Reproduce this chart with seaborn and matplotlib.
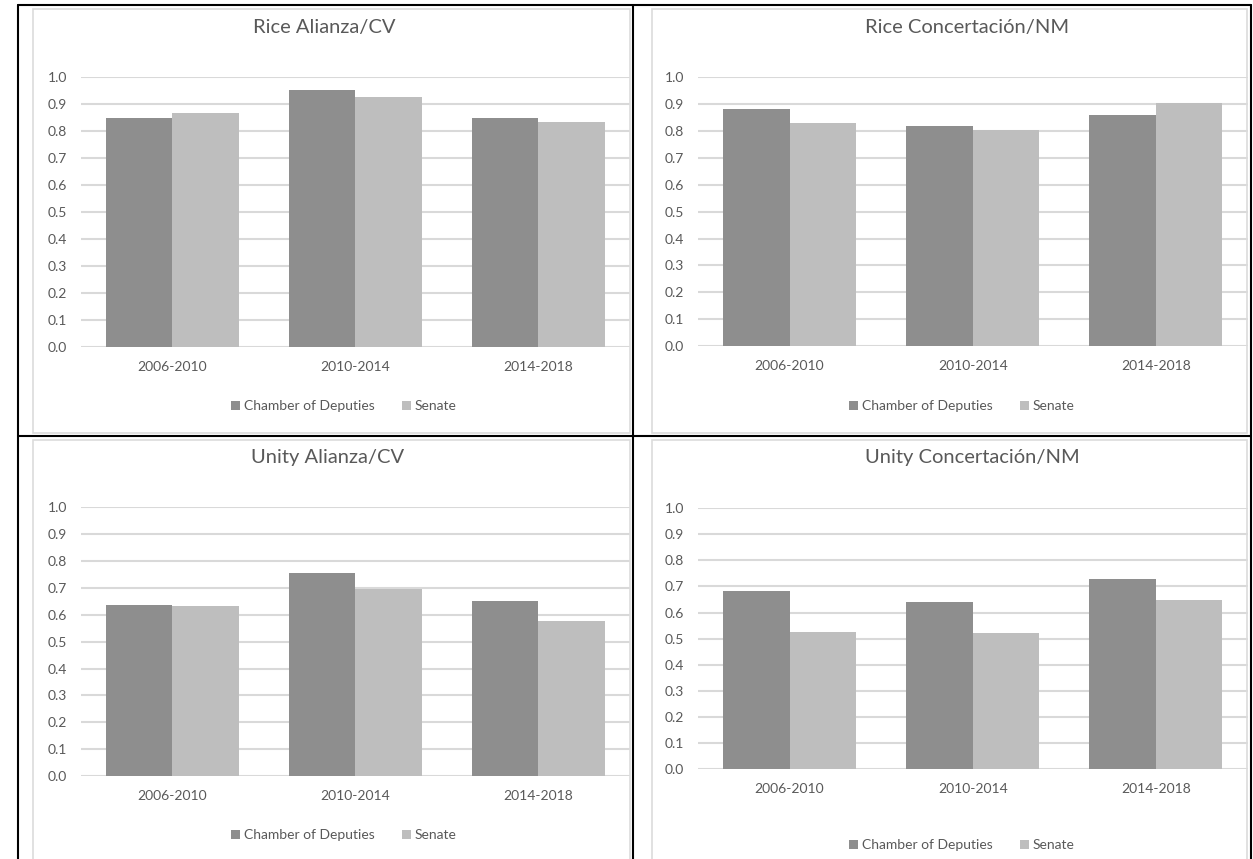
import pandas as pd
import matplotlib.pyplot as plt
import seaborn as sns
from matplotlib.lines import Line2D
from matplotlib.patches import Rectangle
from matplotlib.ticker import MultipleLocator, FormatStrFormatter

# Data
periods = ['2006-2010', '2010-2014', '2014-2018']
chambers = ['Chamber of Deputies', 'Senate']

rice_alianza_chamber = [0.848, 0.953, 0.850]
rice_alianza_senate = [0.866, 0.928, 0.836]
rice_concert_chamber = [0.881, 0.817, 0.859]
rice_concert_senate = [0.828, 0.804, 0.905]
unity_alianza_chamber = [0.635, 0.755, 0.651]
unity_alianza_senate = [0.632, 0.697, 0.578]
unity_concert_chamber = [0.681, 0.639, 0.728]
unity_concert_senate = [0.524, 0.520, 0.647]

titles = ['Rice Alianza/CV', 'Rice Concertación/NM', 'Unity Alianza/CV', 'Unity Concertación/NM']

dark = '#8e8e8e'
light = '#bebebe'
text_col = '#595959'
grid_col = '#d9d9d9'

sns.set_theme(style='white')
plt.rcParams['font.family'] = ['Lato', 'DejaVu Sans']

W, H = 1253, 859
fig = plt.figure(figsize=(W / 100, H / 100), dpi=100)


def fx(px):
    return px / W


def fy(py):
    return 1 - py / H


# (left, right, top(1.0), bottom(0.0)) in pixels, title pos, legend pos
layout = [
    ((81, 629.5, 77, 347), (324, 28), (344, 406)),
    ((698, 1247.5, 77, 346), (967, 28), (962, 406)),
    ((81, 629.5, 507, 776), (328, 457), (344, 835)),
    ((698, 1247.5, 508, 769), (972, 458), (962, 845)),
]
series = [
    (rice_alianza_chamber, rice_alianza_senate),
    (rice_concert_chamber, rice_concert_senate),
    (unity_alianza_chamber, unity_alianza_senate),
    (unity_concert_chamber, unity_concert_senate),
]

# chart-area frames (light grey, like Excel)
for (l, t, r, b) in [(33, 9, 630, 433), (652, 9, 1247, 433), (33, 440, 630, 870), (652, 440, 1247, 870)]:
    fig.add_artist(Rectangle((fx(l), fy(b)), fx(r - l), (b - t) / H, fill=False,
                             edgecolor='#dcdcdc', lw=1.2, transform=fig.transFigure))

for title, (cham, sen), ((l, r, t, b), (tx, ty), (lx, ly)) in zip(titles, series, layout):
    ax = fig.add_axes([fx(l), fy(b), fx(r - l), (b - t) / H])
    df = pd.DataFrame({
        'period': periods * 2,
        'value': cham + sen,
        'house': [chambers[0]] * 3 + [chambers[1]] * 3,
    })
    sns.barplot(data=df, x='period', y='value', hue='house', palette=[dark, light],
                width=0.727, gap=0, saturation=1, linewidth=0, ax=ax)
    ax.set_ylim(0, 1.001)
    ax.set_xlim(-0.5, 2.5)
    ax.yaxis.set_major_locator(MultipleLocator(0.1))
    ax.yaxis.set_major_formatter(FormatStrFormatter('%.1f'))
    ax.grid(axis='y', color=grid_col, lw=1.5)
    ax.set_axisbelow(True)
    sns.despine(ax=ax, left=True, bottom=True)
    ax.tick_params(length=0, colors=text_col, labelsize=10, pad=10)
    ax.set_xlabel('')
    ax.set_ylabel('')

    handles, labels = ax.get_legend_handles_labels()
    ax.get_legend().remove()
    fig.legend(handles, labels, loc='center', bbox_to_anchor=(fx(lx), fy(ly)), ncol=2,
               frameon=False, fontsize=10, handlelength=0.6, handleheight=0.6,
               handletextpad=0.3, columnspacing=2.0, labelcolor=text_col)

    fig.text(fx(tx), fy(ty), title, ha='center', va='center', fontsize=14.5, color=text_col)

# black table grid around the four charts
for x in [18, 633, 1251]:
    fig.add_artist(Line2D([fx(x), fx(x)], [fy(5), fy(859)], color='black', lw=1.5))
for y in [5, 436]:
    fig.add_artist(Line2D([fx(18), fx(1251)], [fy(y), fy(y)], color='black', lw=1.5))

fig.savefig('out.png', dpi=100)
